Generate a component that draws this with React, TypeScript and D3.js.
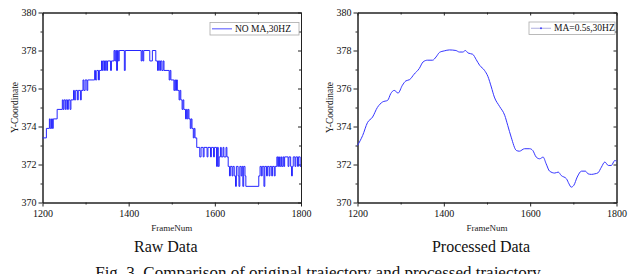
import { useRef, useEffect } from "react";
import * as d3 from "d3";

const xTicks = [1200, 1400, 1600, 1800];
const xMinor = [1300, 1500, 1700];
const yTicks = [370, 372, 374, 376, 378, 380];
const yMinor = [371, 373, 375, 377, 379];

// raw trajectory, [frame, y]; each y is held until the next frame
const rawSteps: [number, number][] = [
  [1200, 373.4], [1209, 373.9], [1216, 374.4], [1218, 373.9], [1221, 374.4], [1223, 373.9],
  [1225, 374.4], [1234, 374.9], [1246, 375.4], [1248, 374.9], [1250, 375.4], [1253, 374.9],
  [1255, 375.4], [1258, 374.9], [1260, 375.4], [1264, 374.9], [1266, 375.4], [1272, 375.9],
  [1274, 375.4], [1277, 375.9], [1281, 375.4], [1283, 375.9], [1288, 375.4], [1290, 375.9],
  [1294, 376.45], [1296, 375.9], [1299, 376.45], [1303, 375.9], [1305, 376.45], [1321, 376.95],
  [1323, 376.45], [1326, 376.95], [1330, 376.45], [1332, 376.95], [1337, 377.45], [1339, 376.95],
  [1341, 377.45], [1344, 376.95], [1346, 377.45], [1349, 376.95], [1351, 377.45], [1358, 376.95],
  [1360, 377.45], [1366, 378.0], [1368, 377.45], [1370, 378.0], [1372, 376.95], [1374, 378.0],
  [1376, 377.45], [1378, 378.0], [1390, 376.95], [1392, 378.0], [1429, 377.45], [1431, 378.0],
  [1433, 377.45], [1435, 378.0], [1449, 377.45], [1455, 378.0], [1463, 377.45], [1467, 376.95],
  [1469, 377.45], [1472, 376.95], [1474, 377.45], [1477, 376.95], [1480, 377.45], [1482, 376.95],
  [1494, 376.45], [1496, 376.95], [1498, 376.45], [1505, 375.9], [1507, 376.45], [1509, 375.9],
  [1511, 376.45], [1513, 375.9], [1517, 375.4], [1519, 375.9], [1521, 375.4], [1524, 374.9],
  [1526, 375.4], [1528, 374.9], [1532, 374.4], [1534, 374.9], [1536, 374.4], [1538, 374.9],
  [1540, 374.4], [1543, 373.9], [1545, 374.4], [1547, 373.9], [1550, 373.4], [1552, 373.9],
  [1554, 373.4], [1558, 372.9], [1565, 372.4], [1568, 372.9], [1573, 372.4], [1575, 372.9],
  [1582, 372.4], [1584, 372.9], [1590, 372.4], [1592, 372.9], [1597, 372.4], [1599, 372.9],
  [1604, 371.9], [1606, 372.9], [1608, 371.9], [1610, 372.4], [1613, 372.9], [1615, 372.4],
  [1619, 372.9], [1621, 372.4], [1626, 372.9], [1628, 372.4], [1631, 371.9], [1634, 371.4],
  [1636, 371.9], [1640, 371.4], [1642, 371.9], [1645, 371.4], [1648, 370.85], [1650, 371.9],
  [1654, 371.4], [1656, 370.85], [1658, 371.9], [1661, 371.4], [1663, 371.9], [1665, 370.85],
  [1667, 371.9], [1670, 371.4], [1672, 370.85], [1702, 371.4], [1705, 371.9], [1708, 371.4],
  [1710, 371.9], [1714, 370.85], [1716, 371.9], [1720, 371.4], [1722, 371.9], [1726, 371.4],
  [1728, 371.9], [1732, 371.4], [1734, 371.9], [1738, 371.4], [1740, 371.9], [1744, 372.4],
  [1746, 371.9], [1748, 372.4], [1750, 371.9], [1753, 372.4], [1755, 371.9], [1758, 372.4],
  [1760, 371.9], [1762, 372.4], [1770, 371.9], [1772, 372.4], [1776, 371.9], [1778, 371.4],
  [1780, 371.9], [1782, 372.4], [1786, 371.9], [1788, 372.4], [1792, 371.9], [1794, 372.4],
  [1798, 371.9], [1800, 371.9],
];

// moving-average trajectory (MA = 0.5 s)
const smoothPoints: [number, number][] = [
  [1200, 373.0], [1212, 373.53], [1223, 374.2], [1235, 374.5], [1246, 375.0], [1258, 375.29],
  [1270, 375.38], [1277, 375.73], [1285, 375.9], [1294, 375.76], [1304, 376.17], [1312, 376.4],
  [1321, 376.47], [1331, 376.75], [1343, 377.05], [1352, 377.4], [1362, 377.49], [1374, 377.49],
  [1382, 377.66], [1390, 377.9], [1401, 377.98], [1413, 378.03], [1428, 378.0], [1436, 377.92],
  [1444, 377.92], [1450, 378.0], [1456, 377.87], [1467, 377.8], [1475, 377.52], [1483, 377.22],
  [1494, 376.96], [1502, 376.64], [1510, 376.08], [1517, 375.55], [1529, 375.06], [1541, 374.59],
  [1548, 374.06], [1556, 373.44], [1568, 372.74], [1575, 372.7], [1587, 372.83], [1599, 372.83],
  [1606, 372.74], [1614, 372.39], [1622, 372.3], [1630, 372.39], [1637, 372.04], [1645, 371.65],
  [1657, 371.55], [1665, 371.6], [1672, 371.42], [1684, 371.25], [1690, 370.98], [1695, 370.81],
  [1701, 370.9], [1709, 371.34], [1719, 371.65], [1728, 371.65], [1734, 371.51], [1742, 371.48],
  [1750, 371.51], [1757, 371.56], [1765, 371.86], [1773, 372.13], [1781, 371.95], [1788, 371.95],
  [1796, 372.21], [1800, 372.18],
];

const FONT = "Liberation Serif, Times New Roman, serif";

interface PanelProps {
  svg: any;
  left: number;
  right: number;
  top: number;
  bottom: number;
  data: [number, number][];
  curve: any;
  lineColor: string;
  legend: string;
  legendBox: [number, number, number, number];
  legendColor: string;
  marker: boolean;
  title: string;
}

function drawPanel(p: PanelProps) {
  const g = p.svg.append("g");
  const x = d3.scaleLinear().domain([1200, 1800]).range([p.left, p.right]);
  const y = d3.scaleLinear().domain([370, 380]).range([p.bottom, p.top]);
  const blank = () => "";

  const styleAxis = (sel: any) => {
    sel.selectAll("path").attr("stroke", "#222").attr("stroke-width", 1);
    sel.selectAll("line").attr("stroke", "#222").attr("stroke-width", 1);
    sel.selectAll("text").attr("font-family", FONT).attr("font-size", 10).attr("fill", "#111");
  };

  // bottom + left: outward ticks with labels
  g.append("g")
    .attr("transform", `translate(0,${p.bottom})`)
    .call(d3.axisBottom(x).tickValues(xTicks).tickSize(4).tickSizeOuter(0).tickPadding(3).tickFormat(d3.format("d")))
    .call(styleAxis);
  g.append("g")
    .attr("transform", `translate(0,${p.bottom})`)
    .call(d3.axisBottom(x).tickValues(xMinor).tickSize(2).tickSizeOuter(0).tickFormat(blank))
    .call(styleAxis);
  g.append("g")
    .attr("transform", `translate(${p.left},0)`)
    .call(d3.axisLeft(y).tickValues(yTicks).tickSize(4).tickSizeOuter(0).tickPadding(2))
    .call(styleAxis);
  g.append("g")
    .attr("transform", `translate(${p.left},0)`)
    .call(d3.axisLeft(y).tickValues(yMinor).tickSize(2).tickSizeOuter(0).tickFormat(blank))
    .call(styleAxis);

  // top + right mirror: inward ticks, no labels
  g.append("g")
    .attr("transform", `translate(0,${p.top})`)
    .call(d3.axisTop(x).tickValues(xTicks).tickSize(-3).tickSizeOuter(0).tickFormat(blank))
    .call(styleAxis);
  g.append("g")
    .attr("transform", `translate(0,${p.top})`)
    .call(d3.axisTop(x).tickValues(xMinor).tickSize(-2).tickSizeOuter(0).tickFormat(blank))
    .call(styleAxis);
  g.append("g")
    .attr("transform", `translate(${p.right},0)`)
    .call(d3.axisRight(y).tickValues(yTicks).tickSize(-3).tickSizeOuter(0).tickFormat(blank))
    .call(styleAxis);
  g.append("g")
    .attr("transform", `translate(${p.right},0)`)
    .call(d3.axisRight(y).tickValues(yMinor).tickSize(-2).tickSizeOuter(0).tickFormat(blank))
    .call(styleAxis);

  // data line
  const line = d3
    .line<[number, number]>()
    .x((d) => x(d[0]))
    .y((d) => y(d[1]))
    .curve(p.curve);
  g.append("path")
    .datum(p.data)
    .attr("d", line)
    .attr("fill", "none")
    .attr("stroke", p.lineColor)
    .attr("stroke-width", 1);

  // legend
  const [lx0, ly0, lx1, ly1] = p.legendBox;
  g.append("rect")
    .attr("x", lx0).attr("y", ly0)
    .attr("width", lx1 - lx0).attr("height", ly1 - ly0)
    .attr("fill", "#fff").attr("stroke", "#aaa").attr("stroke-width", 0.8);
  const ly = (ly0 + ly1) / 2;
  g.append("line")
    .attr("x1", lx0 + 2).attr("x2", lx0 + 22)
    .attr("y1", ly).attr("y2", ly)
    .attr("stroke", p.legendColor).attr("stroke-width", p.marker ? 0.8 : 1.5);
  if (p.marker) {
    g.append("circle").attr("cx", lx0 + 12).attr("cy", ly).attr("r", 0.9).attr("fill", "#33f");
  }
  g.append("text")
    .attr("x", lx0 + 25).attr("y", ly + 3.2)
    .attr("font-family", FONT).attr("font-size", 9.5)
    .attr("fill", "#111")
    .text(p.legend);

  // axis titles
  const cx = (p.left + p.right) / 2;
  const cy = (p.top + p.bottom) / 2;
  g.append("text")
    .attr("x", cx).attr("y", 231)
    .attr("text-anchor", "middle")
    .attr("font-family", FONT).attr("font-size", 9)
    .attr("fill", "#222")
    .text("FrameNum");
  g.append("text")
    .attr("transform", `translate(${p.left - 25},${cy}) rotate(-90)`)
    .attr("text-anchor", "middle")
    .attr("font-family", FONT).attr("font-size", 9.5)
    .attr("fill", "#222")
    .text("Y-Coordinate");

  g.append("text")
    .attr("x", cx - 6).attr("y", 252)
    .attr("text-anchor", "middle")
    .attr("font-family", FONT).attr("font-size", 16)
    .attr("fill", "#111")
    .text(p.title);
}

export default function App() {
  const svgRef = useRef<SVGSVGElement>(null);

  useEffect(() => {
    const svg = d3.select(svgRef.current);
    svg.selectAll("*").remove();
    svg.append("rect").attr("width", 640).attr("height", 274).attr("fill", "#fff");

    drawPanel({
      svg, left: 42.5, right: 301, top: 12.5, bottom: 202.5,
      data: rawSteps, curve: d3.curveStepAfter, lineColor: "#2626ff",
      legend: "NO MA,30HZ", legendBox: [210, 22.5, 299, 35], legendColor: "#8a8aff",
      marker: false, title: "Raw Data",
    });
    drawPanel({
      svg, left: 357.5, right: 616.5, top: 12.5, bottom: 202.5,
      data: smoothPoints, curve: d3.curveMonotoneX, lineColor: "#3434ff",
      legend: "MA=0.5s,30HZ", legendBox: [529, 22, 615, 34.5], legendColor: "#9a9ad8",
      marker: true, title: "Processed Data",
    });

    // figure caption, clipped at the bottom edge as in the source page
    svg.append("text")
      .attr("x", 318).attr("y", 278)
      .attr("text-anchor", "middle")
      .attr("font-family", FONT).attr("font-size", 17)
      .attr("fill", "#111")
      .text("Fig. 3. Comparison of original trajectory and processed trajectory");
  }, []);

  return (
    <svg
      ref={svgRef}
      width={640}
      height={274}
      style={{ position: "absolute", left: 0, top: 0 }}
    />
  );
}
